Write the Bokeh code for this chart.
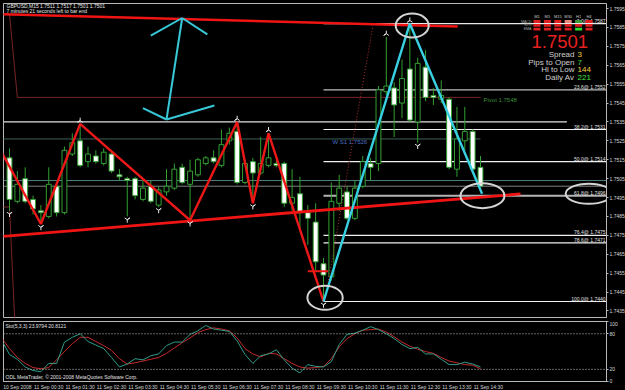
from bokeh.plotting import figure
from bokeh.layouts import column
from bokeh.models import Range1d, FixedTicker, NumeralTickFormatter, Label, Span, ColumnDataSource
from bokeh.embed import file_html
from bokeh.resources import INLINE
from bokeh.core.properties import value

FONT = "Liberation Sans"

# ---------------- data ----------------
bar_index = list(range(61))
opens = [1.7516, 1.7493, 1.7505, 1.7494, 1.7488, 1.7485, 1.7501, 1.7487, 1.7518, 1.7525,
         1.7514, 1.7517, 1.7513, 1.7518, 1.7507, 1.7505, 1.7505, 1.7494, 1.7501, 1.7491,
         1.7498, 1.7500, 1.7511, 1.7502, 1.7507, 1.7513, 1.7516, 1.7512, 1.7525, 1.7530,
         1.7503, 1.7514, 1.7508, 1.7512, 1.7513, 1.7513, 1.7492, 1.7497, 1.7487, 1.7482,
         1.7460, 1.7453, 1.7492, 1.7498, 1.7484, 1.7501, 1.7513, 1.7513, 1.7551, 1.7553,
         1.7545, 1.7563, 1.7535, 1.7564, 1.7549, 1.7547, 1.7547, 1.7510, 1.7525, 1.7530,
         1.7511]
highs = [1.7521, 1.7509, 1.7511, 1.7496, 1.7491, 1.7511, 1.7503, 1.7522, 1.7529, 1.7534,
         1.7522, 1.7520, 1.7521, 1.7520, 1.7510, 1.7506, 1.7506, 1.7504, 1.7504, 1.7501,
         1.7510, 1.7513, 1.7513, 1.7515, 1.7516, 1.7517, 1.7520, 1.7531, 1.7532, 1.7535,
         1.7515, 1.7516, 1.7527, 1.7529, 1.7515, 1.7514, 1.7510, 1.7506, 1.7491, 1.7492,
         1.7463, 1.7503, 1.7507, 1.7501, 1.7504, 1.7517, 1.7516, 1.7554, 1.7580, 1.7556,
         1.7568, 1.7587, 1.7569, 1.7573, 1.7553, 1.7557, 1.7548, 1.7543, 1.7543, 1.7531,
         1.7517]
lows = [1.7488, 1.7492, 1.7492, 1.7486, 1.7481, 1.7484, 1.7485, 1.7486, 1.7517, 1.7511,
        1.7511, 1.7513, 1.7512, 1.7508, 1.7504, 1.7485, 1.7494, 1.7493, 1.7492, 1.7490,
        1.7496, 1.7499, 1.7502, 1.7483, 1.7506, 1.7512, 1.7513, 1.7511, 1.7523, 1.7502,
        1.7502, 1.7492, 1.7507, 1.7511, 1.7511, 1.7490, 1.7488, 1.7478, 1.7470, 1.7456,
        1.7440, 1.7451, 1.7488, 1.7483, 1.7483, 1.7500, 1.7504, 1.7509, 1.7549, 1.7527,
        1.7537, 1.7535, 1.7524, 1.7546, 1.7544, 1.7545, 1.7510, 1.7506, 1.7520, 1.7508,
        1.7501]
closes = [1.7494, 1.7502, 1.7493, 1.7489, 1.7487, 1.7502, 1.7487, 1.7520, 1.7524, 1.7512,
          1.7518, 1.7514, 1.7519, 1.7509, 1.7506, 1.7504, 1.7496, 1.7500, 1.7493, 1.7499,
          1.7501, 1.7510, 1.7503, 1.7509, 1.7515, 1.7516, 1.7514, 1.7523, 1.7529, 1.7503,
          1.7513, 1.7508, 1.7513, 1.7516, 1.7512, 1.7492, 1.7495, 1.7487, 1.7484, 1.7461,
          1.7454, 1.7493, 1.7500, 1.7484, 1.7500, 1.7514, 1.7511, 1.7552, 1.7554, 1.7544,
          1.7558, 1.7536, 1.7566, 1.7548, 1.7548, 1.7549, 1.7511, 1.7526, 1.7530, 1.7510,
          1.7501]

stoch_bars = list(range(-1, 61))
stoch_main = [69, 45, 37, 24, 18, 16, 30, 30, 66, 74, 80, 67, 61, 55, 40, 24, 29, 38, 36, 43,
              46, 60, 66, 66, 79, 85, 94, 88, 86, 84, 68, 45, 30, 43, 46, 53, 36, 22, 14, 28,
              25, 24, 33, 62, 79, 81, 86, 92, 87, 80, 72, 62, 55, 57, 46, 46, 37, 28, 28, 32,
              29, 24]
stoch_signal = [73, 55, 40, 30, 23, 21, 23, 36, 50, 63, 74, 74, 67, 60, 52, 38, 29, 31, 34, 37,
                40, 47, 56, 65, 73, 82, 87, 90, 88, 85, 73, 55, 46, 41, 47, 46, 38, 30, 24, 22,
                23, 25, 38, 58, 72, 80, 86, 87, 88, 83, 75, 66, 59, 54, 50, 47, 40, 34, 31, 28,
                27, 21]

price_ticks = [1.7435, 1.7445, 1.7455, 1.7465, 1.7475, 1.7485, 1.7495, 1.7505, 1.7515,
               1.7525, 1.7535, 1.7545, 1.7555, 1.7565, 1.7575, 1.7585, 1.7595]
stoch_ticks = [0, 20, 80, 100]
time_tick_bars = [-1, 3, 7, 11, 15, 19, 23, 27, 31, 35, 39, 43, 47, 51, 55, 59]
time_labels = ["10 Sep 2008", "11 Sep 00:30", "11 Sep 01:30", "11 Sep 02:30", "11 Sep 03:30",
               "11 Sep 04:30", "11 Sep 05:30", "11 Sep 06:30", "11 Sep 07:30", "11 Sep 08:30",
               "11 Sep 09:30", "11 Sep 10:30", "11 Sep 11:30", "11 Sep 12:30", "11 Sep 13:30",
               "11 Sep 14:30"]

fib_levels = ["0.0", "23.6", "38.2", "50.0", "61.8", "76.4", "78.6", "100.0"]
fib_prices = [1.7587, 1.7552, 1.7531, 1.7514, 1.7496, 1.7475, 1.7471, 1.7440]
fib_colors = ["#e8e8e8", "#bdbdbd", "#f0f0f0", "#f0f0f0", "#b4b4b4", "#f0f0f0", "#f0f0f0", "#f0f0f0"]
fib_start_bar = 40

zz_red_bars = [-1, 4, 9, 23, 29, 31, 33, 40]
zz_red_prices = [1.7519, 1.7481, 1.7534, 1.7483, 1.7535, 1.7492, 1.7529, 1.7440]
zz_cyan_bars = [40, 51, 60.2]
zz_cyan_prices = [1.7440, 1.7587, 1.7497]
trend_top_bars = [-0.8, 57.1]
trend_top_prices = [1.7592, 1.75855]
trend_low_bars = [-0.8, 65.1]
trend_low_prices = [1.74745, 1.74969]
dotted_bars = [40.25, 46.3]
dotted_prices = [1.7442, 1.7586]
red_stub_bars = [38.0, 40.6]
red_stub_prices = [1.7456, 1.7456]

arrow_shaft_x = [22.0, 20.0]
arrow_shaft_y = [1.7590, 1.75363]
arrow_head_x0 = [22.0, 22.0, 20.0, 20.0]
arrow_head_y0 = [1.7590, 1.7590, 1.75363, 1.75363]
arrow_head_x1 = [18.0, 25.2, 17.0, 26.1]
arrow_head_y1 = [1.75807, 1.75813, 1.75423, 1.75437]

ell_bars = [51.3, 40.2, 60.25, 73.8]
ell_prices = [1.7586, 1.7442, 1.7496, 1.7497]
ell_w = [4.2, 4.5, 5.6, 5.9]
ell_h = [0.00127, 0.00127, 0.00132, 0.00106]

frac_down_bars = [0, 4, 15, 19, 23, 31, 40, 52]
frac_up_bars = [9, 29, 33, 48, 51]

pivot_bars = [-1, 0, 1, 60]
pivot_prices = [1.7592, 1.7592, 1.7548, 1.7548]
prev_s1_bars = [-1, 0, 1]
prev_s1_prices = [1.7490, 1.7490, 1.7400]
ws1_bars = [-1, 60]
ws1_prices = [1.7526, 1.7526]
res_bars = [-1, 71]
res_prices = [1.7535, 1.7535]
bid_price = 1.7501
mark_price = 1.7504

sig_rows = ["MACD", "STO", "EMA"]
sig_cols = ["M1", "M5", "M15", "M30", "H1", "H4"]
R, PK, G1, G2 = "#e02020", "#e88878", "#3c9c3c", "#30e030"
sig_colors = [[R, R, R, PK, G1, R],
              [R, R, R, R, R, R],
              [R, R, R, R, G2, R]]
info_labels = ["Spread", "Pips to Open", "Hi to Low", "Daily Av"]
info_values = ["3", "7", "144", "221"]
info_colors = ["#f0d040", "#40d840", "#f0d040", "#40e040"]

# ---------------- pixel helpers (layout only) ----------------
BAR0_PX, BAR_PX = 9.0, 7.85
P0, P0_PX, PX_PER_PRICE = 1.7440, 301.0, 18900.0


def bx(px):
    return (px - BAR0_PX) / BAR_PX


def py(y):
    return P0 + (P0_PX - y) / PX_PER_PRICE


GREEN = "#33a033"

main = figure(frame_width=603, frame_height=314,
              x_range=Range1d(bx(3), bx(606)), y_range=Range1d(py(317), py(3)),
              output_backend="svg", toolbar_location=None,
              x_axis_location=None, y_axis_location="right",
              background_fill_color="black", border_fill_color="black",
              min_border_left=3, min_border_top=3, min_border_bottom=4, min_border_right=0,
              outline_line_color="#b8b8b8")
main.grid.visible = False
ya = main.yaxis[0]
ya.ticker = FixedTicker(ticks=price_ticks)
ya.formatter = NumeralTickFormatter(format="0.0000")
ya.major_label_text_font_size = "5px"
ya.major_label_text_font = FONT
ya.major_label_text_color = "#d8d8d8"
ya.major_label_standoff = 1
ya.major_tick_out = 2
ya.major_tick_in = 0
ya.minor_tick_line_color = None
ya.axis_line_color = "#b8b8b8"
ya.major_tick_line_color = "#b8b8b8"

# horizontal level lines
main.add_layout(Span(location=mark_price, dimension="width", line_color="#4f7f80", line_width=1, level="underlay"))
main.add_layout(Span(location=bid_price, dimension="width", line_color="#808080", line_width=1, level="underlay"))
main.line(ws1_bars, ws1_prices, line_color="#3b6058", line_width=1)
main.line(res_bars, res_prices, line_color="#e0e0e0", line_width=1.2)
main.line(pivot_bars, pivot_prices, line_color="#7a2424", line_width=1)
main.line(prev_s1_bars, prev_s1_prices, line_color="#7a2424", line_width=1)

# fibonacci lines
x_end = bx(606)
fx0 = [fib_start_bar] * len(fib_prices)
fx1 = [x_end] * len(fib_prices)
fw = [2 if lv == "61.8" else 1.2 for lv in fib_levels]
main.segment(x0=fx0, y0=fib_prices, x1=fx1, y1=fib_prices, line_color=fib_colors, line_width=fw)
main.text(x=[bx(605)] * len(fib_prices), y=fib_prices,
          text=[f"{lv}@ {pr:.4f}" for lv, pr in zip(fib_levels, fib_prices)],
          text_font=value(FONT), text_font_size="5px", text_color="#e0e0e0",
          text_align="right", text_baseline="bottom")

# candles
src = ColumnDataSource(dict(
    x=bar_index, high=highs, low=lows,
    top=[max(o, c) for o, c in zip(opens, closes)],
    bottom=[min(o, c) for o, c in zip(opens, closes)],
    fill=["black" if c > o else "white" for o, c in zip(opens, closes)],
))
main.segment(x0="x", y0="high", x1="x", y1="low", source=src, line_color=GREEN, line_width=1)
main.vbar(x="x", width=0.62, top="top", bottom="bottom", fill_color="fill",
          line_color=GREEN, line_width=1, source=src)

# trend lines & zigzags
main.line(trend_top_bars, trend_top_prices, line_color="#f01414", line_width=2.6)
main.line(dotted_bars, dotted_prices, line_color="#b03030", line_width=1, line_dash="1 2")
main.line(zz_red_bars, zz_red_prices, line_color="#ec1818", line_width=2.4)
main.line(red_stub_bars, red_stub_prices, line_color="#ec1818", line_width=2)
main.line(trend_low_bars, trend_low_prices, line_color="#f01414", line_width=2.8)
main.line(zz_cyan_bars, zz_cyan_prices, line_color="#38d0e0", line_width=2.4)
main.line(arrow_shaft_x, arrow_shaft_y, line_color="#38c8d8", line_width=2)
main.segment(x0=arrow_head_x0, y0=arrow_head_y0, x1=arrow_head_x1, y1=arrow_head_y1,
             line_color="#38c8d8", line_width=2)

# fractal arrows
main.scatter([b for b in frac_down_bars], [lows[b] - 0.00017 for b in frac_down_bars],
             marker="y", size=6, line_color="#e8e8e8", line_width=1)
main.scatter([b for b in frac_up_bars], [highs[b] + 0.00017 for b in frac_up_bars],
             marker="y", angle=3.14159, size=6, line_color="#e8e8e8", line_width=1)

# ellipses
main.ellipse(x=ell_bars, y=ell_prices, width=ell_w, height=ell_h,
             fill_color=None, line_color="#d4d4d4", line_width=2)

# level texts
main.text(x=[bx(332)], y=[ws1_prices[0]], text=["W S1 1.7526"], text_font=value(FONT),
          text_font_size="6px", text_color="#4a6ec8", text_baseline="top")
main.text(x=[bx(483)], y=[pivot_prices[-1]], text=["Pivot 1.7548"], text_font=value(FONT),
          text_font_size="6px", text_color="#3a8f3a", text_baseline="top")

# title
main.text(x=[bx(6)], y=[py(5.5)], text=["GBPUSD,M15  1.7511 1.7517 1.7501 1.7501"],
          text_font=value(FONT), text_font_size="5px", text_color="#e8e8e8", text_baseline="middle")
main.text(x=[bx(6)], y=[py(10.5)], text=["7 minutes 21 seconds left to bar end"],
          text_font=value(FONT), text_font_size="5px", text_color="#e8e8e8", text_baseline="middle")

# signal grid
cx, cy, cc = [], [], []
for r, row in enumerate(sig_colors):
    for k, col in enumerate(row):
        cx.append(bx(536.5 + 10.4 * k))
        cy.append(py(21 + 3.8 * r))
        cc.append(col)
main.rect(x=cx, y=cy, width=7 / BAR_PX, height=2.8 / PX_PER_PRICE, fill_color=cc, line_color=None)
main.text(x=[bx(536.5 + 10.4 * k) for k in range(len(sig_cols))], y=[py(15.5)] * len(sig_cols),
          text=sig_cols, text_font=value(FONT), text_font_size="4px", text_color="#c8c8c8",
          text_align="center", text_baseline="middle")
main.text(x=[bx(531)] * len(sig_rows), y=[py(21 + 3.8 * r) for r in range(len(sig_rows))],
          text=sig_rows, text_font=value(FONT), text_font_size="3.6px", text_color="#a8a8a8",
          text_align="right", text_baseline="middle")
main.text(x=[bx(531)], y=[py(41)], text=[f"{bid_price:.4f}"], text_font=value(FONT),
          text_font_size="18.5px", text_color="#e82020", text_baseline="middle")
main.text(x=[bx(574)] * 4, y=[py(54 + 7.6 * i) for i in range(4)], text=info_labels,
          text_font=value(FONT), text_font_size="8px", text_color="#cfcfcf",
          text_align="right", text_baseline="middle")
main.text(x=[bx(577)] * 4, y=[py(54 + 7.6 * i) for i in range(4)], text=info_values,
          text_font=value(FONT), text_font_size="8px", text_color=info_colors,
          text_align="left", text_baseline="middle")

# axis price boxes
main.add_layout(Label(x=x_end, y=mark_price, text=f"{mark_price:.4f}", x_offset=1,
                      text_font=FONT, text_font_size="5px", text_color="black",
                      background_fill_color="#38c0c8", text_baseline="middle"))
main.add_layout(Label(x=x_end, y=bid_price, text=f"{bid_price:.4f}", x_offset=1,
                      text_font=FONT, text_font_size="5px", text_color="black",
                      background_fill_color="#e8e8e8", text_baseline="middle"))

# ---------------- stochastic ----------------
S_LO, S_HI = -0.5, 100.7
sto = figure(frame_width=603, frame_height=60, x_range=main.x_range, y_range=Range1d(S_LO, S_HI),
             output_backend="svg", toolbar_location=None, y_axis_location="right",
             background_fill_color="black", border_fill_color="black",
             min_border_left=3, min_border_top=0, min_border_bottom=9, min_border_right=0,
             outline_line_color="#b8b8b8")
sto.grid.visible = False


def sy(y):
    return S_HI - (y - 321) * (S_HI - S_LO) / 60.0


sya = sto.yaxis[0]
sya.ticker = FixedTicker(ticks=stoch_ticks)
sya.major_label_text_font_size = "5px"
sya.major_label_text_font = FONT
sya.major_label_text_color = "#d8d8d8"
sya.major_label_standoff = 1
sya.major_tick_out = 2
sya.major_tick_in = 0
sya.minor_tick_line_color = None
sya.axis_line_color = "#b8b8b8"
sya.major_tick_line_color = "#b8b8b8"

sxa = sto.xaxis[0]
tick_pos = [b + 2 for b in time_tick_bars]
sxa.ticker = FixedTicker(ticks=tick_pos)
sxa.major_label_overrides = {t: lbl for t, lbl in zip(tick_pos, time_labels)}
sxa.major_label_text_font_size = "5px"
sxa.major_label_text_font = FONT
sxa.major_label_text_color = "#d8d8d8"
sxa.major_label_standoff = 2
sxa.major_tick_out = 0
sxa.major_tick_in = 0
sxa.minor_tick_line_color = None
sxa.axis_line_color = "#b8b8b8"

for lvl in (20, 80):
    sto.add_layout(Span(location=lvl, dimension="width", line_color="#c8c8c8",
                        line_width=1, line_dash="1 2"))
sto.line(stoch_bars, stoch_signal, line_color="#c42a2a", line_width=1)
sto.line(stoch_bars, stoch_main, line_color="#2f9c8a", line_width=1)
sto.text(x=[bx(5)], y=[sy(325)], text=["Sto(5,3,3) 23.9794 20.8121"], text_font=value(FONT),
         text_font_size="5px", text_color="#e0e0e0", text_baseline="middle")
sto.text(x=[bx(5)], y=[sy(376)], text=["ODL MetaTrader, \u00a9 2001-2008 MetaQuotes Software Corp."],
         text_font=value(FONT), text_font_size="5px", text_color="#e0e0e0", text_baseline="middle")

layout = column(main, sto, spacing=0, styles={"background-color": "black"})
open("out.html", "w").write(file_html(layout, INLINE))
